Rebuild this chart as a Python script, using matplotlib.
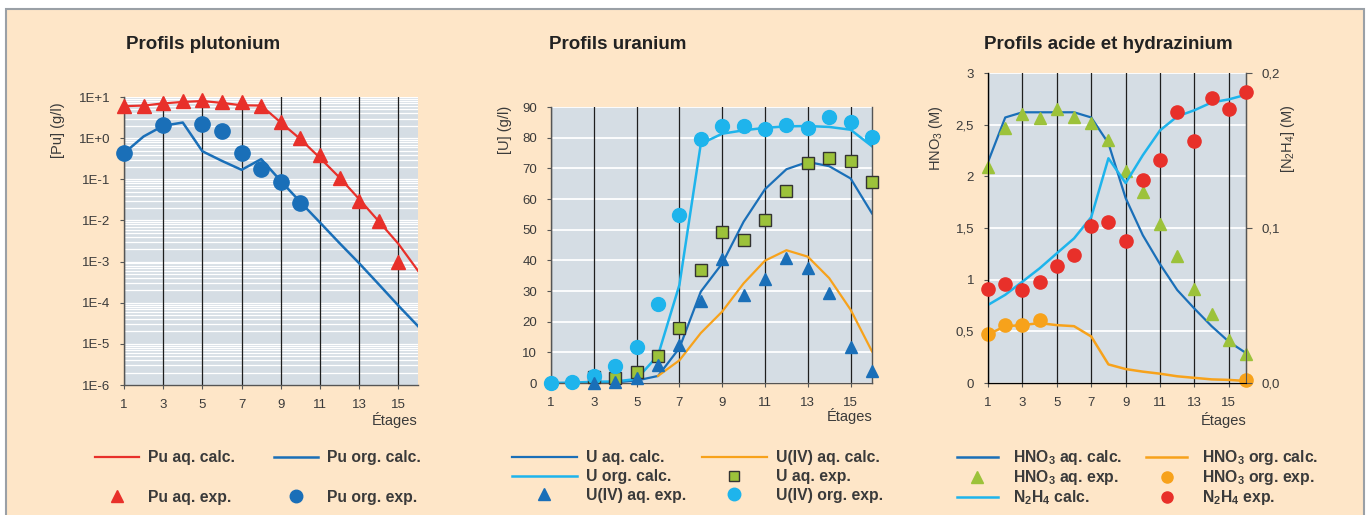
import matplotlib.pyplot as plt
import numpy as np
from matplotlib.lines import Line2D
from matplotlib.patches import Rectangle

plt.rcParams['font.family'] = ['Liberation Sans', 'DejaVu Sans']
plt.rcParams['mathtext.default'] = 'regular'

# couleurs
FOND = '#FEE6C8'
GRILLE = '#D5DDE4'
ROUGE = '#E8302A'
BLEU = '#1A6FB8'
CIEL = '#1EB4EC'
ORANGE = '#F7A21B'
VERT = '#9CC23A'
TEXTE = '#3A3A3A'

etages = np.arange(1, 17)

# Profils plutonium (g/l)
pu_aq_calc = [6.0, 6.2, 7.0, 7.6, 8.0, 7.2, 6.3, 6.2, 2.4, 0.95, 0.33, 0.11, 0.033, 0.0095, 0.0027, 0.0006]
pu_aq_exp_x = [1, 2, 3, 4, 5, 6, 7, 8, 9, 10, 11, 12, 13, 14, 15]
pu_aq_exp = [6.0, 6.2, 7.1, 7.8, 8.3, 7.7, 7.5, 5.9, 2.5, 1.0, 0.39, 0.105, 0.030, 0.0098, 0.00096]
pu_org_calc = [0.43, 1.1, 2.0, 2.4, 0.48, 0.28, 0.17, 0.31, 0.091, 0.028, 0.0089, 0.0028, 0.00091, 0.00028, 8.5e-5, 2.7e-5]
pu_org_exp_x = [1, 3, 5, 6, 7, 8, 9, 10]
pu_org_exp = [0.43, 2.1, 2.2, 1.5, 0.43, 0.18, 0.085, 0.027]

# Profils uranium (g/l)
u_aq_calc = [0, 0, 0.1, 0.2, 0.8, 2.3, 11.4, 29.8, 39.0, 52.6, 63.2, 69.7, 72.1, 70.7, 66.7, 55.3]
u_org_calc = [0, 0.1, 0.4, 0.5, 1.3, 9.0, 32.0, 78.0, 81.3, 82.4, 83.2, 83.7, 83.8, 83.5, 82.6, 77.2]
u4_aq_calc_x = [6, 7, 8, 9, 10, 11, 12, 13, 14, 15, 16]
u4_aq_calc = [2.3, 7.4, 16.3, 23.3, 32.5, 39.9, 43.3, 41.2, 34.2, 23.9, 10.3]
u_aq_exp_x = [3, 4, 5, 6, 7, 8, 9, 10, 11, 12, 13, 14, 15, 16]
u_aq_exp = [2.0, 1.5, 3.7, 8.7, 18.1, 36.9, 49.1, 46.6, 53.3, 62.7, 71.6, 73.5, 72.3, 65.5]
u4_aq_exp_x = [3, 4, 5, 6, 7, 8, 9, 10, 11, 12, 13, 14, 15, 16]
u4_aq_exp = [0.0, 0.4, 1.5, 5.9, 12.4, 26.9, 40.5, 28.7, 33.8, 40.9, 37.4, 29.3, 11.9, 3.8]
u4_org_exp = [0, 0.2, 2.4, 5.4, 11.8, 25.7, 54.8, 79.5, 83.8, 83.7, 82.8, 84.2, 83.3, 86.6, 85.2, 80.3]

# Profils acide (M) et hydrazinium (M)
hno3_aq_calc = [2.14, 2.57, 2.62, 2.62, 2.62, 2.62, 2.57, 2.32, 1.79, 1.43, 1.15, 0.90, 0.72, 0.55, 0.40, 0.29]
hno3_aq_exp = [2.09, 2.47, 2.60, 2.56, 2.65, 2.57, 2.52, 2.35, 2.05, 1.85, 1.54, 1.23, 0.91, 0.67, 0.42, 0.28]
hno3_org_calc = [0.47, 0.55, 0.56, 0.58, 0.56, 0.55, 0.45, 0.18, 0.135, 0.11, 0.09, 0.065, 0.05, 0.035, 0.03, 0.02]
hno3_org_exp_x = [1, 2, 3, 4, 16]
hno3_org_exp = [0.47, 0.56, 0.56, 0.61, 0.03]
n2h4_calc = [0.0504, 0.0569, 0.0654, 0.074, 0.0837, 0.0933, 0.107, 0.145, 0.129, 0.147, 0.163, 0.172, 0.176, 0.181, 0.183, 0.186]
n2h4_exp = [0.0607, 0.064, 0.060, 0.065, 0.0757, 0.0826, 0.101, 0.1036, 0.0916, 0.131, 0.144, 0.175, 0.156, 0.184, 0.177, 0.1875]

fig = plt.figure(figsize=(13.7, 5.15), dpi=100, facecolor='white')
fig.patches.append(Rectangle((6 / 1370, -0.01), 1358 / 1370, (506 / 515) + 0.01,
                             transform=fig.transFigure, facecolor=FOND,
                             edgecolor='#9AA0A6', lw=1.5, zorder=-10))


def habiller(ax, droite=False):
    ax.set_facecolor(GRILLE)
    ax.set_xlim(1, 16)
    ax.set_xticks(range(1, 16, 2))
    ax.set_axisbelow(True)
    # traits verticaux noirs au-dessus des lignes blanches horizontales
    ax.xaxis.set_zorder(0.8)
    ax.grid(axis='x', color='#1E1E1E', lw=0.9)
    ax.tick_params(labelsize=9.5, colors='#555555', labelcolor=TEXTE, length=3, pad=7)
    ax.spines['top'].set_visible(False)
    ax.spines['right'].set_visible(droite)
    for s in ax.spines.values():
        s.set_color('#555555')
        s.set_linewidth(1)
    ax.text(1.0, -0.12, 'Étages', transform=ax.transAxes, ha='right', va='center',
            fontsize=10.5, color=TEXTE)


police_leg = {'weight': 'bold', 'size': 11.3}

# --- plutonium ---
ax1 = fig.add_axes([0.0905, 0.2524, 0.2146, 0.5592])
ax1.set_yscale('log')
ax1.set_ylim(1e-6, 10)
habiller(ax1)
ax1.set_yticks([1e-6, 1e-5, 1e-4, 1e-3, 1e-2, 1e-1, 1, 10])
ax1.set_yticklabels(['1E-6', '1E-5', '1E-4', '1E-3', '1E-2', '1E-1', '1E+0', '1E+1'])
ax1.yaxis.set_minor_formatter(plt.NullFormatter())
ax1.tick_params(axis='y', which='minor', length=0)
ax1.grid(axis='y', which='both', color='white', lw=0.9)
ax1.plot(etages, pu_aq_calc, color=ROUGE, lw=1.6)
ax1.plot(etages, pu_org_calc, color=BLEU, lw=1.8)
ax1.plot(pu_aq_exp_x, pu_aq_exp, '^', color=ROUGE, ms=10, clip_on=False, zorder=5)
ax1.plot(pu_org_exp_x, pu_org_exp, 'o', color=BLEU, ms=11, clip_on=False, zorder=5)
ax1.set_ylabel('[Pu] (g/l)', fontsize=10.5, color=TEXTE)
ax1.yaxis.set_label_coords(-0.2, 0.885)

h1 = [Line2D([], [], color=ROUGE, lw=1.6), Line2D([], [], ls='', marker='^', color=ROUGE, ms=9),
      Line2D([], [], color=BLEU, lw=1.8), Line2D([], [], ls='', marker='o', color=BLEU, ms=9)]
l1 = ['Pu aq. calc.', 'Pu aq. exp.', 'Pu org. calc.', 'Pu org. exp.']
fig.legend(h1, l1, ncol=2, loc='upper left', bbox_to_anchor=(0.0693, 0.126), frameon=False,
           prop=police_leg, borderpad=0, borderaxespad=0, handlelength=2.8, handletextpad=0.57,
           columnspacing=2.5, labelspacing=1.58, labelcolor=TEXTE)

# --- uranium ---
ax2 = fig.add_axes([0.4022, 0.2563, 0.2343, 0.5359])
ax2.set_ylim(0, 90)
habiller(ax2, droite=True)
ax2.set_yticks(range(0, 91, 10))
ax2.grid(axis='y', color='white', lw=1.3)
ax2.plot(etages, u_aq_calc, color=BLEU, lw=1.6)
ax2.plot(etages, u_org_calc, color=CIEL, lw=1.8)
ax2.plot(u4_aq_calc_x, u4_aq_calc, color=ORANGE, lw=1.6)
ax2.plot(u_aq_exp_x, u_aq_exp, 's', color=VERT, mec='#333333', mew=1, ms=8.5, clip_on=False, zorder=5)
ax2.plot(etages, u4_org_exp, 'o', color=CIEL, ms=10, clip_on=False, zorder=5)
ax2.plot(u4_aq_exp_x, u4_aq_exp, '^', color=BLEU, ms=9, clip_on=False, zorder=6)
ax2.set_ylabel('[U] (g/l)', fontsize=10.5, color=TEXTE)
ax2.yaxis.set_label_coords(-0.121, 0.917)

h2 = [Line2D([], [], color=BLEU, lw=1.6), Line2D([], [], color=CIEL, lw=1.8),
      Line2D([], [], ls='', marker='^', color=BLEU, ms=8),
      Line2D([], [], color=ORANGE, lw=1.6),
      Line2D([], [], ls='', marker='s', color=VERT, mec='#333333', ms=7),
      Line2D([], [], ls='', marker='o', color=CIEL, ms=9)]
l2 = ['U aq. calc.', 'U org. calc.', 'U(IV) aq. exp.', 'U(IV) aq. calc.', 'U aq. exp.', 'U(IV) org. exp.']
fig.legend(h2, l2, ncol=2, loc='upper left', bbox_to_anchor=(0.3737, 0.126), frameon=False,
           prop=police_leg, borderpad=0, borderaxespad=0, handlelength=4.14, handletextpad=0.57,
           columnspacing=1.0, labelspacing=0.25, labelcolor=TEXTE)

# --- acide et hydrazinium ---
ax3 = fig.add_axes([0.7212, 0.2563, 0.1883, 0.6019])
ax3.set_ylim(0, 3)
habiller(ax3, droite=True)
ax3.set_yticks([0, 0.5, 1, 1.5, 2, 2.5, 3])
ax3.set_yticklabels(['0', '0,5', '1', '1,5', '2', '2,5', '3'])
ax3.grid(axis='y', color='white', lw=1.3)
ax3.plot(etages, hno3_aq_calc, color=BLEU, lw=1.6)
ax3.plot(etages, hno3_org_calc, color=ORANGE, lw=1.8)
ax3.plot(etages, hno3_aq_exp, '^', color=VERT, ms=9, clip_on=False, zorder=5)
ax3.plot(hno3_org_exp_x, hno3_org_exp, 'o', color=ORANGE, ms=9.5, clip_on=False, zorder=5)
ax3.set_ylabel('HNO$_3$ (M)', fontsize=10.5, color=TEXTE)
ax3.yaxis.set_label_coords(-0.167, 0.79)

ax3b = ax3.twinx()
ax3b.set_ylim(0, 0.2)
ax3b.set_yticks([0, 0.1, 0.2])
ax3b.set_yticklabels(['0,0', '0,1', '0,2'])
ax3b.tick_params(labelsize=9.5, colors='#555555', labelcolor=TEXTE, length=4, pad=7)
ax3b.spines['top'].set_visible(False)
ax3b.spines['right'].set_color('#555555')
ax3b.plot(etages, n2h4_calc, color=CIEL, lw=1.8)
ax3b.plot(etages, n2h4_exp, 'o', color=ROUGE, ms=9.5, clip_on=False, zorder=5)
ax3b.set_ylabel('[N$_2$H$_4$] (M)', fontsize=10.5, color=TEXTE, rotation=90)
ax3b.yaxis.set_label_coords(1.128, 0.79)

h3 = [Line2D([], [], color=BLEU, lw=1.8), Line2D([], [], ls='', marker='^', color=VERT, ms=8),
      Line2D([], [], color=CIEL, lw=1.8),
      Line2D([], [], color=ORANGE, lw=1.8), Line2D([], [], ls='', marker='o', color=ORANGE, ms=8),
      Line2D([], [], ls='', marker='o', color=ROUGE, ms=8)]
l3 = ['HNO$_3$ aq. calc.', 'HNO$_3$ aq. exp.', 'N$_2$H$_4$ calc.',
      'HNO$_3$ org. calc.', 'HNO$_3$ org. exp.', 'N$_2$H$_4$ exp.']
fig.legend(h3, l3, ncol=2, loc='upper left', bbox_to_anchor=(0.6985, 0.13), frameon=False,
           prop=police_leg, borderpad=0, borderaxespad=0, handlelength=2.6, handletextpad=0.95,
           columnspacing=1.55, labelspacing=0.07, labelcolor=TEXTE)

# titres
for x, titre in [(0.148, 'Profils plutonium'), (0.451, 'Profils uranium'),
                 (0.809, 'Profils acide et hydrazinium')]:
    fig.text(x, 0.913, titre, ha='center', va='center', fontsize=13.5, fontweight='bold', color='#222222')

fig.savefig('out.png', dpi=100, facecolor='white')
